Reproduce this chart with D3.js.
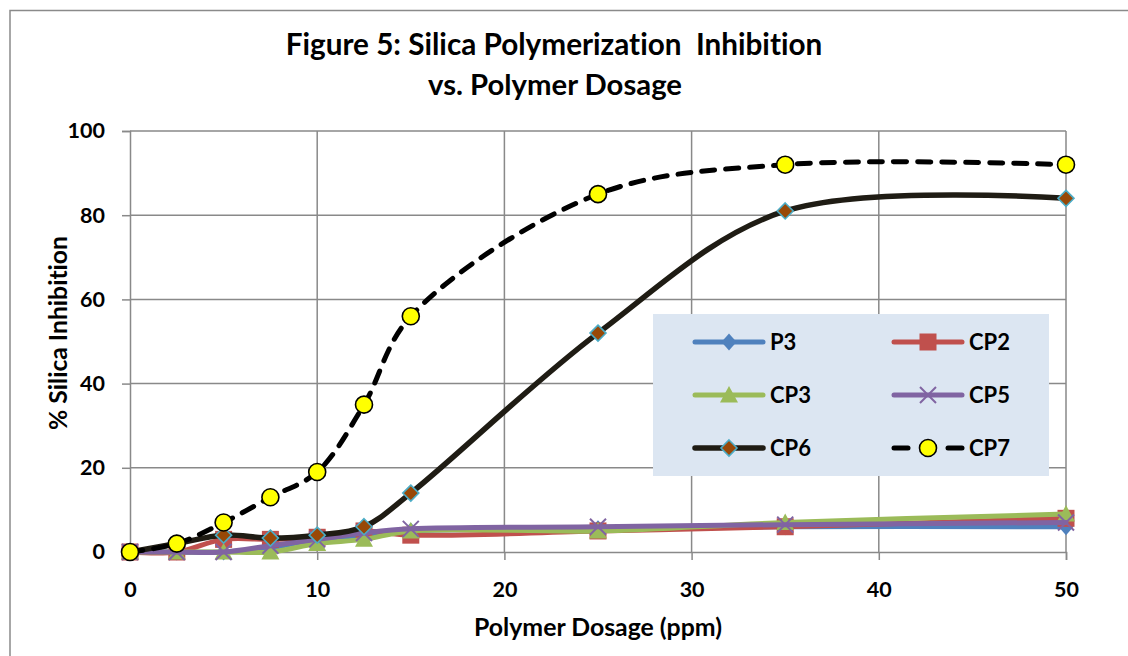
<!DOCTYPE html>
<html>
<head>
<meta charset="utf-8">
<script src="https://cdn.jsdelivr.net/npm/d3@7"></script>
<style>
  html, body { margin: 0; padding: 0; background: #fff; }
  svg { display: block; font-family: Lato, "Open Sans", sans-serif; font-weight: bold;
        font-variant-ligatures: none; font-feature-settings: "liga" 0, "clig" 0; }
  text { white-space: pre; }
</style>
</head>
<body>
<svg id="chart" width="1128" height="656"></svg>
<script>
// ---- data ----
const dosage = [0, 2.5, 5, 7.5, 10, 12.5, 15, 25, 35, 50];
const P3  = [0, 0, 0, 1, 3, 4, 5, 5.5, 6, 6];
const CP2 = [0, 0, 3, 3, 3.5, 5, 4, 5, 6, 8];
const CP3 = [0, 0, 0, 0, 2, 3, 5, 5, 7, 9];
const CP5 = [0, 0, 0, 1.5, 3, 4.5, 5.5, 6, 6.5, 7];
const CP6 = [0, 2, 4, 3.3, 4, 6, 14, 52, 81, 84];
const CP7 = [0, 2, 7, 13, 19, 35, 56, 85, 92, 92];
const seriesNames = ["P3", "CP2", "CP3", "CP5", "CP6", "CP7"];
const xTicks = [0, 10, 20, 30, 40, 50];
const yTicks = [0, 20, 40, 60, 80, 100];
const titleLines = ["Figure 5: Silica Polymerization  Inhibition", "vs. Polymer Dosage"];
const xTitle = "Polymer Dosage (ppm)";
const yTitle = "% Silica Inhibition";

const values = { P3, CP2, CP3, CP5, CP6, CP7 };
const styles = {
  P3:  { line: "#4F81BD", width: 5, marker: "diamond", fill: "#4F81BD", stroke: "none" },
  CP2: { line: "#C0504D", width: 5, marker: "square", fill: "#C0504D", stroke: "none" },
  CP3: { line: "#9BBB59", width: 5, marker: "triangle", fill: "#9BBB59", stroke: "none" },
  CP5: { line: "#8064A2", width: 5, marker: "x", fill: "none", stroke: "#8064A2" },
  CP6: { line: "#1F1C14", width: 5.5, marker: "diamond6", fill: "#984807", stroke: "#4BACC6" },
  CP7: { line: "#000000", width: 5, marker: "circle", fill: "#FFFF00", stroke: "#000000", dash: "13,11" }
};

const svg = d3.select("#chart");

// outer frame
svg.append("rect").attr("x", 10).attr("y", 10.5).attr("width", 1130).attr("height", 660)
  .attr("fill", "#fff").attr("stroke", "#8a8a8a").attr("stroke-width", 1.5);

const x = d3.scaleLinear().domain([0, 50]).range([130, 1066]);
const y = d3.scaleLinear().domain([0, 100]).range([552, 131]);

const gridColor = "#898989";
// gridlines
svg.append("g").selectAll("line").data(yTicks.filter(d => d > 0)).join("line")
  .attr("x1", x(0)).attr("x2", x(50)).attr("y1", d => y(d)).attr("y2", d => y(d))
  .attr("stroke", gridColor).attr("stroke-width", 1.5);
svg.append("g").selectAll("line").data(xTicks.filter(d => d > 0)).join("line")
  .attr("y1", y(0)).attr("y2", y(100)).attr("x1", d => x(d)).attr("x2", d => x(d))
  .attr("stroke", gridColor).attr("stroke-width", 1.5);

// axes
const yAxis = svg.append("g").attr("transform", `translate(${x(0)},0)`)
  .call(d3.axisLeft(y).tickValues(yTicks).tickSize(8).tickPadding(17).tickFormat(d3.format("d")));
const xAxis = svg.append("g").attr("transform", `translate(0,${y(0)})`)
  .call(d3.axisBottom(x).tickValues(xTicks).tickSize(8).tickPadding(22).tickFormat(d3.format("d")));
[xAxis, yAxis].forEach(a => {
  a.select(".domain").attr("stroke", gridColor).attr("stroke-width", 1.5);
  a.selectAll(".tick line").attr("stroke", gridColor).attr("stroke-width", 1.5);
  a.selectAll("text").attr("fill", "#000").style("font-size", "21.5px").style("font-family", "Lato").style("font-weight", "bold");
});

// marker drawing
function drawMarker(g, type, st) {
  if (type === "diamond") {
    g.append("path").attr("d", "M0,-8.5L7.5,0L0,8.5L-7.5,0Z").attr("fill", st.fill);
  } else if (type === "diamond6") {
    g.append("path").attr("d", "M0,-8L8,0L0,8L-8,0Z").attr("fill", st.fill)
      .attr("stroke", st.stroke).attr("stroke-width", 1.6);
  } else if (type === "square") {
    g.append("rect").attr("x", -8.5).attr("y", -8.5).attr("width", 17).attr("height", 17).attr("fill", st.fill);
  } else if (type === "triangle") {
    g.append("path").attr("d", "M0,-9L9,7.5L-9,7.5Z").attr("fill", st.fill);
  } else if (type === "x") {
    g.append("path").attr("d", "M-8,-8L8,8M-8,8L8,-8").attr("stroke", st.stroke).attr("stroke-width", 2).attr("fill", "none");
  } else if (type === "circle") {
    g.append("circle").attr("r", 8.5).attr("fill", st.fill).attr("stroke", st.stroke).attr("stroke-width", 1.6);
  }
}

const line = d3.line().x(d => x(d[0])).y(d => y(d[1])).curve(d3.curveCatmullRom.alpha(0.5));

seriesNames.forEach(name => {
  const st = styles[name];
  const pts = dosage.map((d, i) => [d, values[name][i]]);
  const g = svg.append("g");
  g.append("path").datum(pts).attr("d", line).attr("fill", "none")
    .attr("stroke", st.line).attr("stroke-width", st.width)
    .attr("stroke-linecap", "round").attr("stroke-linejoin", "round")
    .attr("stroke-dasharray", st.dash || null);
  g.selectAll("g.m").data(pts).join("g").attr("class", "m")
    .attr("transform", d => `translate(${x(d[0])},${y(d[1])})`)
    .each(function () { drawMarker(d3.select(this), st.marker, st); });
});

// legend
const leg = svg.append("g");
leg.append("rect").attr("x", 653).attr("y", 314).attr("width", 396).attr("height", 162).attr("fill", "#DCE6F2");
const colX = [693, 892];
const rowY = [342, 395, 448];
seriesNames.forEach((name, i) => {
  const st = styles[name];
  const cx = colX[i % 2], cy = rowY[Math.floor(i / 2)];
  const g = leg.append("g");
  if (st.dash) {
    g.append("line").attr("x1", cx + 2).attr("x2", cx + 16).attr("y1", cy).attr("y2", cy)
      .attr("stroke", st.line).attr("stroke-width", st.width).attr("stroke-linecap", "round");
    g.append("line").attr("x1", cx + 56).attr("x2", cx + 70).attr("y1", cy).attr("y2", cy)
      .attr("stroke", st.line).attr("stroke-width", st.width).attr("stroke-linecap", "round");
  } else {
    g.append("line").attr("x1", cx + 2).attr("x2", cx + 70).attr("y1", cy).attr("y2", cy)
      .attr("stroke", st.line).attr("stroke-width", st.width).attr("stroke-linecap", "round");
  }
  const m = g.append("g").attr("transform", `translate(${cx + 36},${cy})`);
  drawMarker(m, st.marker, st);
  g.append("text").attr("x", cx + 77).attr("y", cy).attr("dy", "0.36em")
    .style("font-size", "22px").text(name);
});

// fit helper
function fitWidth(sel, target) {
  const w = sel.node().getComputedTextLength();
  const fs = parseFloat(sel.style("font-size"));
  sel.style("font-size", (fs * target / w) + "px");
}

// titles
const t1 = svg.append("text").attr("x", 554).attr("y", 55).attr("text-anchor", "middle")
  .attr("xml:space", "preserve").style("font-size", "24px").text(titleLines[0]);
fitWidth(t1, 537);
const t2 = svg.append("text").attr("x", 555).attr("y", 95).attr("text-anchor", "middle")
  .style("font-size", "24px").text(titleLines[1]);
fitWidth(t2, 254);

const xt = svg.append("text").attr("x", 598).attr("y", 636).attr("text-anchor", "middle")
  .style("font-size", "20px").text(xTitle);
fitWidth(xt, 248);
const yt = svg.append("text").attr("transform", "translate(67,333) rotate(-90)").attr("text-anchor", "middle")
  .style("font-size", "20px").text(yTitle);
fitWidth(yt, 194);
</script>
</body>
</html>
